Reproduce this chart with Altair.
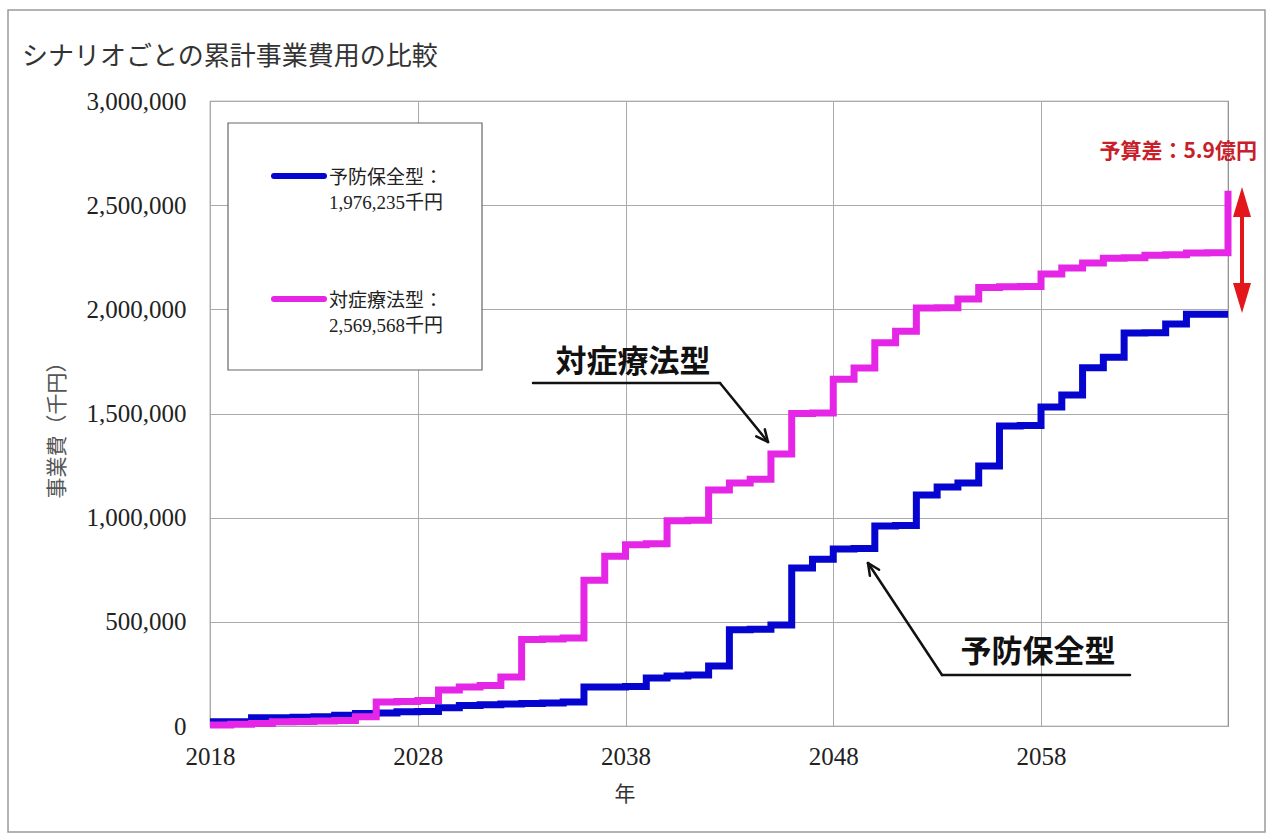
import math
import altair as alt
import pandas as pd

# ---------------- data ----------------
years = list(range(2018, 2068))
yobou_hozen = [  # 予防保全型 cumulative cost (千円)
    20000, 20000, 40000, 40000, 42000, 44000, 52000, 60000, 62000, 68000,
    70000, 88000, 98000, 102000, 106000, 108000, 110000, 115000, 187000, 187000,
    190000, 230000, 240000, 245000, 288000, 462000, 465000, 485000, 758000, 800000,
    850000, 852000, 960000, 962000, 1109000, 1147000, 1166000, 1248000, 1440000, 1442000,
    1531000, 1589000, 1720000, 1770000, 1886000, 1888000, 1930000, 1976235, 1976235, 1976235,
]
taisho_ryoho = [  # 対症療法型 cumulative cost (千円)
    5000, 8000, 12000, 20000, 22000, 24000, 26000, 45000, 115000, 118000,
    122000, 173000, 187000, 195000, 235000, 415000, 418000, 422000, 700000, 815000,
    870000, 875000, 985000, 988000, 1133000, 1166000, 1185000, 1306000, 1500000, 1502000,
    1665000, 1718000, 1840000, 1895000, 2006000, 2008000, 2050000, 2105000, 2108000, 2110000,
    2170000, 2198000, 2222000, 2245000, 2248000, 2260000, 2262000, 2270000, 2272000, 2569568,
]
series_names = ["予防保全型", "対症療法型"]
series_totals = ["1,976,235千円", "2,569,568千円"]
series_colors = ["#0505CF", "#E626E6"]
x_ticks = [2018, 2028, 2038, 2048, 2058]
y_ticks = [0, 500000, 1000000, 1500000, 2000000, 2500000, 3000000]

# ---------------- layout ----------------
PL, PT, PR, PB = 210, 101, 1228, 726
W, H = PR - PL, PB - PT
def px(x): return x - PL
def py(y): return y - PT

SERIF = "Liberation Serif, Noto Sans CJK JP"
GOTHIC = "Noto Sans CJK JP"

one = pd.DataFrame({"k": [0]})

xscale = alt.Scale(domain=[2018, 2067], nice=False, zero=False)
yscale = alt.Scale(domain=[0, 3000000], nice=False)

xaxis = alt.Axis(values=x_ticks, format="d", title=None, ticks=False, domain=False,
                 labelFont="Liberation Serif", labelFontSize=25, labelColor="#222",
                 labelPadding=18, labelFlush=False, labelOverlap=False,
                 grid=True, gridColor="#aaaaaa", gridWidth=1)
yaxis = alt.Axis(values=y_ticks, format=",.0f", title=None, ticks=False, domain=False,
                 labelFont="Liberation Serif", labelFontSize=25, labelColor="#222",
                 labelPadding=24, labelFlush=False, labelOverlap=False,
                 grid=True, gridColor="#aaaaaa", gridWidth=1)

df_b = pd.DataFrame({"year": years, "value": yobou_hozen})
df_p = pd.DataFrame({"year": years, "value": taisho_ryoho})

def series_layer(df, color):
    return alt.Chart(df).mark_line(interpolate="step-after", color=color, strokeWidth=7,
                                   strokeJoin="miter", strokeCap="butt").encode(
        x=alt.X("year:Q", scale=xscale, axis=xaxis),
        y=alt.Y("value:Q", scale=yscale, axis=yaxis),
    )

layers = []

# outer frame
layers.append(alt.Chart(one).mark_rect(fill=None, stroke="#9a9a9a", strokeWidth=1.5).encode(
    x=alt.value(px(8)), x2=alt.value(px(1265)), y=alt.value(py(10)), y2=alt.value(py(832))))

layers.append(series_layer(df_b, series_colors[0]))
layers.append(series_layer(df_p, series_colors[1]))

# legend box
layers.append(alt.Chart(one).mark_rect(fill="white", stroke="#666", strokeWidth=1.2).encode(
    x=alt.value(px(228)), x2=alt.value(px(482)), y=alt.value(py(123)), y2=alt.value(py(370))))
for i, (ly, t1y, t2y) in enumerate([(176, 178, 203), (299, 301, 326)]):
    layers.append(alt.Chart(one).mark_rule(color=series_colors[i], strokeWidth=6, strokeCap="round").encode(
        x=alt.value(px(274)), x2=alt.value(px(324)), y=alt.value(py(ly)), y2=alt.value(py(ly))))
    layers.append(alt.Chart(one).mark_text(text=series_names[i] + "：", font=SERIF, fontSize=19,
                                           color="#222", align="left", baseline="middle").encode(
        x=alt.value(px(329)), y=alt.value(py(t1y))))
    layers.append(alt.Chart(one).mark_text(text=series_totals[i], font=SERIF, fontSize=19,
                                           color="#222", align="left", baseline="middle").encode(
        x=alt.value(px(329)), y=alt.value(py(t2y))))

# title and axis titles
layers.append(alt.Chart(one).mark_text(text="シナリオごとの累計事業費用の比較", font=GOTHIC, fontSize=26,
                                       color="#333", align="left", baseline="middle").encode(
    x=alt.value(px(22)), y=alt.value(py(57))))
layers.append(alt.Chart(one).mark_text(text="事業費（千円）", font=GOTHIC, fontSize=21, angle=270,
                                       color="#555", align="center", baseline="middle").encode(
    x=alt.value(px(58)), y=alt.value(py(425))))
layers.append(alt.Chart(one).mark_text(text="年", font=GOTHIC, fontSize=21,
                                       color="#333", align="center", baseline="middle").encode(
    x=alt.value(px(625)), y=alt.value(py(795))))

# annotation arrows
def seg(x0, y0, x1, y1, color="#111", w=2.5):
    return alt.Chart(one).mark_rule(color=color, strokeWidth=w, strokeCap="round").encode(
        x=alt.value(px(x0)), x2=alt.value(px(x1)), y=alt.value(py(y0)), y2=alt.value(py(y1)))

def arrow(x0, y0, x1, y1, head=13, ang=25):
    out = [seg(x0, y0, x1, y1)]
    dx, dy = x0 - x1, y0 - y1
    n = math.hypot(dx, dy)
    ux, uy = dx / n, dy / n
    for s in (1, -1):
        a = math.radians(ang) * s
        rx = ux * math.cos(a) - uy * math.sin(a)
        ry = ux * math.sin(a) + uy * math.cos(a)
        out.append(seg(x1, y1, x1 + rx * head, y1 + ry * head))
    return out

layers.append(seg(533, 383, 720, 383))
layers += arrow(720, 383, 768, 442)
layers.append(alt.Chart(one).mark_text(text="対症療法型", font=GOTHIC, fontSize=31, fontWeight="bold",
                                       color="#111", align="center", baseline="middle").encode(
    x=alt.value(px(633)), y=alt.value(py(363))))

layers.append(seg(942, 675, 1130, 675))
layers += arrow(942, 675, 868, 563)
layers.append(alt.Chart(one).mark_text(text="予防保全型", font=GOTHIC, fontSize=31, fontWeight="bold",
                                       color="#111", align="center", baseline="middle").encode(
    x=alt.value(px(1038)), y=alt.value(py(653))))

# budget difference
RED = "#E3161B"
layers.append(alt.Chart(one).mark_text(text="予算差：5.9億円", font=GOTHIC, fontSize=21, fontWeight="bold",
                                       color="#C8202A", align="right", baseline="middle").encode(
    x=alt.value(px(1257)), y=alt.value(py(152))))
layers.append(seg(1242, 212, 1242, 288, color=RED, w=4))
layers.append(alt.Chart(one).mark_point(shape="M0,-1L0.6,1L-0.6,1Z", size=900, filled=True,
                                        color=RED, opacity=1).encode(
    x=alt.value(px(1242)), y=alt.value(py(202))))
layers.append(alt.Chart(one).mark_point(shape="M0,1L0.6,-1L-0.6,-1Z", size=900, filled=True,
                                        color=RED, opacity=1).encode(
    x=alt.value(px(1242)), y=alt.value(py(298))))

chart = alt.layer(*layers).properties(
    width=W, height=H,
    autosize=alt.AutoSizeParams(type="none"),
    padding={"left": PL, "top": PT, "right": 1271 - PR, "bottom": 837 - PB},
    background="white",
).configure_view(stroke="#888", strokeWidth=1.2)

chart.save("out.html", embed_options={"renderer": "svg", "actions": False})
